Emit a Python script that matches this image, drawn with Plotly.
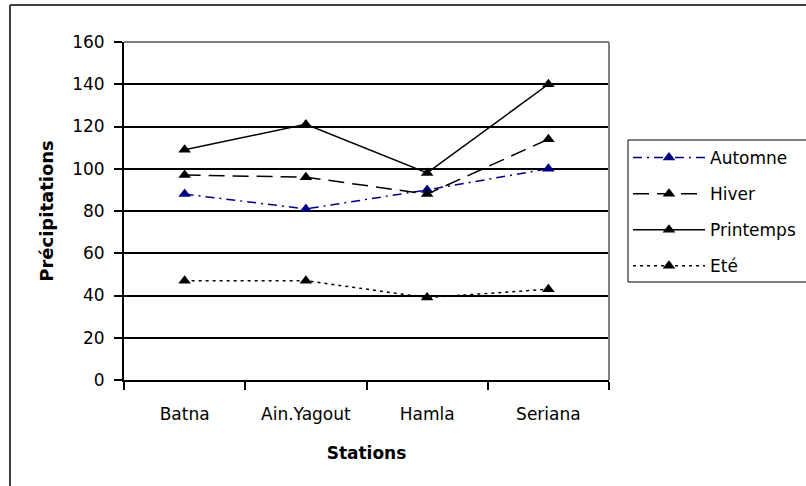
import plotly.graph_objects as go

# Seasonal precipitation per station
stations = ["Batna", "Ain.Yagout", "Hamla", "Seriana"]
automne = [88, 81, 90, 100]
hiver = [97, 96, 88, 114]
printemps = [109, 121, 98, 140]
ete = [47, 47, 39, 43]

series = [
    ("Automne", automne, "#000080", "9px,5px,2px,5px"),
    ("Hiver", hiver, "black", "16px,8px"),
    ("Printemps", printemps, "black", "solid"),
    ("Eté", ete, "black", "3px,4px"),
]

W, H = 806, 486
L, R, T, B = 124, 197, 42, 106
pw, ph = W - L - R, H - T - B


def px(x):
    return (x - L) / pw


def py(y):
    return (H - B - y) / ph


fig = go.Figure()
for i, (name, vals, color, dash) in enumerate(series):
    fig.add_trace(go.Scatter(
        x=stations, y=vals, name=name, mode="lines+markers",
        legendgroup=f"g{i}",
        line=dict(color=color, width=1.5, dash=dash),
        marker=dict(symbol="triangle-up", size=11, color=color),
    ))

font = "DejaVu Sans"
fig.update_layout(
    width=W, height=H,
    margin=dict(l=L, r=R, t=T, b=B, autoexpand=False),
    paper_bgcolor="white", plot_bgcolor="white",
    font=dict(family=font, size=17, color="black"),
    showlegend=True,
    legend=dict(
        x=px(628), y=py(140), xanchor="left", yanchor="top",
        bgcolor="rgba(0,0,0,0)", borderwidth=0,
        font=dict(family=font, size=17, color="black"),
        tracegroupgap=11, itemwidth=72,
    ),
    xaxis=dict(
        type="category", range=[-0.5, 3.5],
        showline=True, linecolor="black", linewidth=2,
        ticks="outside", ticklen=8, tickcolor="black", tickwidth=1.5,
        tickson="boundaries", showgrid=False,
        ticklabelstandoff=18,
        tickfont=dict(family=font, size=17),
        title=dict(text="<b>Stations</b>", standoff=24,
                   font=dict(family=font, size=17)),
    ),
    yaxis=dict(
        range=[0, 160], dtick=20,
        showline=True, linecolor="black", linewidth=2,
        ticks="outside", ticklen=8, tickcolor="black", tickwidth=1.5,
        showgrid=True, gridcolor="black", gridwidth=1.6,
        zeroline=False,
        ticklabelstandoff=6,
        tickfont=dict(family=font, size=17),
        title=dict(text="<b>Précipitations</b>", standoff=14,
                   font=dict(family=font, size=18)),
    ),
    shapes=[
        # plot-area border (top and right)
        dict(type="line", xref="paper", yref="paper", x0=0, x1=1, y0=1, y1=1,
             line=dict(color="#808080", width=2)),
        dict(type="line", xref="paper", yref="paper", x0=1, x1=1, y0=0, y1=1,
             line=dict(color="#808080", width=2)),
        # outer chart frame
        dict(type="line", xref="paper", yref="paper",
             x0=px(10), x1=px(W + 10), y0=py(5), y1=py(5),
             line=dict(color="#404040", width=2)),
        dict(type="line", xref="paper", yref="paper",
             x0=px(10), x1=px(10), y0=py(5), y1=py(H + 10),
             line=dict(color="#404040", width=2)),
        # legend box
        dict(type="rect", xref="paper", yref="paper",
             x0=px(628), x1=px(W + 20), y0=py(140), y1=py(282),
             line=dict(color="black", width=1)),
    ],
)

fig.write_html("out.html")
